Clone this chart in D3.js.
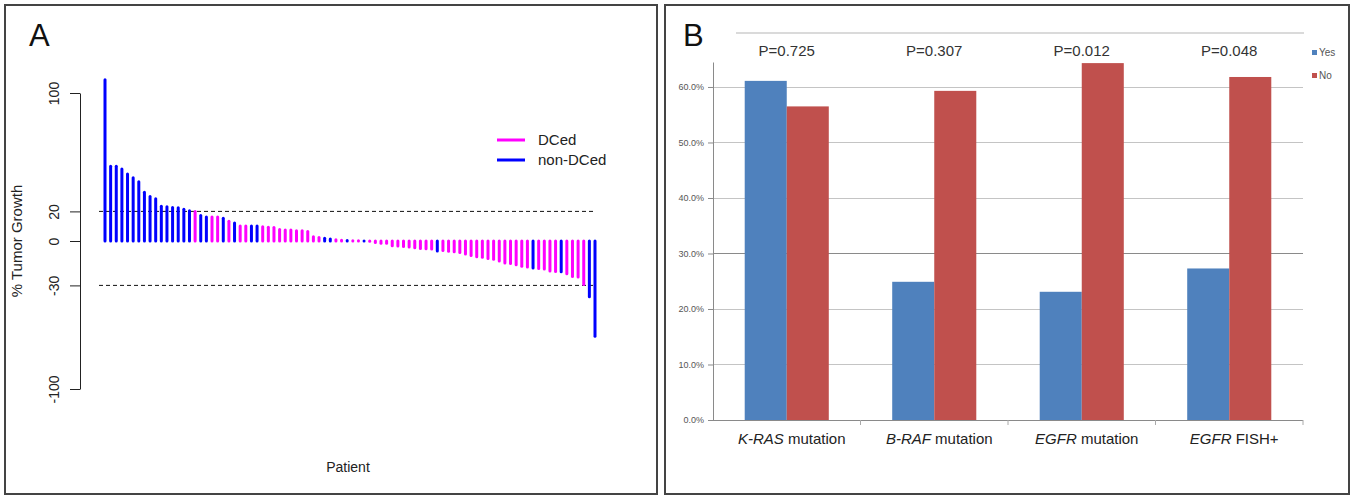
<!DOCTYPE html>
<html><head><meta charset="utf-8">
<script src="https://cdn.jsdelivr.net/npm/d3@7"></script>
<style>body{margin:0;background:#fff} svg{display:block}</style>
</head><body>
<svg id="chart" width="1353" height="498"></svg>
<script>
// ---------- Panel A data ----------
const growthValues = [109, 50.5, 50.5, 48.6, 45.3, 42.8, 40, 33, 30, 28.6,
  23.4, 23.2, 22.7, 22.5, 21.4, 20.5, 20, 17.3, 16.2, 16.2,
  16.2, 15.3, 13.3, 12.2, 10.1, 10.1, 10.1, 10.1, 9.7, 9.3,
  9.2, 7.7, 7.5, 7.5, 7, 7, 6.5, 2.9, 2.3, 1.8,
  1.4, 0.9, 0.5, 0.3, 0.2, 0.1, 0, -0.2, -1, -1.5,
  -1.6, -3.2, -3.4, -3.8, -4, -4.5, -5, -5.2, -5.4, -6.7,
  -6.5, -7, -7.2, -7.7, -8.8, -9.8, -10.6, -11, -11.9, -12.4,
  -13.5, -14.9, -15.2, -16, -17, -17.5, -18.3, -18.6, -19, -20.3,
  -20.6, -20.8, -22.2, -24, -24.3, -29.4, -37.6, -64.3];
// N = non-DCed, D = DCed
const growthGroups = ["N","N","N","N","N","N","N","N","N","N",
  "N","N","N","N","N","N","D","N","N","D",
  "D","N","D","N","D","D","N","N","D","D",
  "D","D","D","D","D","D","D","D","D","N",
  "N","D","D","N","D","D","N","D","D","D",
  "D","D","D","D","D","D","D","D","D","N",
  "D","D","D","D","D","D","D","D","D","D",
  "D","D","D","D","D","D","N","D","D","D",
  "D","N","D","D","D","D","N","N"];
const groupCodes = ["D", "N"];
const groupNames = ["DCed", "non-DCed"];
const yTicksA = [-100, -30, 0, 20, 100];
const yTickLabelsA = ["-100", "-30", "0", "20", "100"];
const thresholdsA = [20, -30];

// ---------- Panel B data ----------
const geneNames = ["K-RAS", "B-RAF", "EGFR", "EGFR"];
const categorySuffix = [" mutation", " mutation", " mutation", " FISH+"];
const seriesNames = ["Yes", "No"];
const yesValues = [61.1, 24.9, 23.1, 27.3];
const noValues = [56.5, 59.3, 64.3, 61.8];
const pValueLabels = ["P=0.725", "P=0.307", "P=0.012", "P=0.048"];
const yTicksB = [0, 10, 20, 30, 40, 50, 60];

const svg = d3.select("#chart");
const font = "'Liberation Sans', Arial, sans-serif";

// ================= PANEL A =================
const A = svg.append("g");
A.append("rect").attr("x", 5).attr("y", 5).attr("width", 652).attr("height", 489)
  .attr("fill", "none").attr("stroke", "#444").attr("stroke-width", 2);
A.append("text").attr("x", 29).attr("y", 46).attr("font-family", font)
  .attr("font-size", 31).attr("fill", "#111").text("A");

const colorA = d3.scaleOrdinal().domain(groupCodes).range(["#ff00ff", "#0000ff"]);
const xA = d3.scalePoint().domain(growthValues.map((d, i) => i)).range([105, 595]);
const yA = d3.scaleLinear().domain([-100, 100]).range([389, 93]);

const axA = A.append("g").attr("transform", "translate(80,0)")
  .call(d3.axisLeft(yA).tickValues(yTicksA).tickSize(10).tickSizeOuter(0)
    .tickFormat((d, i) => yTickLabelsA[i]));
axA.selectAll("path,line").attr("stroke", "#222");
axA.selectAll("text").attr("transform", "rotate(-90)").attr("x", 0).attr("y", -21)
  .attr("dy", 0).attr("text-anchor", "middle").attr("font-family", font)
  .attr("font-size", 14).attr("fill", "#222");

A.append("text").attr("transform", `translate(22,${yA(0)}) rotate(-90)`)
  .attr("text-anchor", "middle").attr("font-family", font).attr("font-size", 15)
  .attr("fill", "#222").text("% Tumor Growth");
A.append("text").attr("x", 348).attr("y", 472).attr("text-anchor", "middle")
  .attr("font-family", font).attr("font-size", 14).attr("fill", "#222").text("Patient");

A.selectAll("line.thr").data(thresholdsA).join("line").attr("class", "thr")
  .attr("x1", 99).attr("x2", 596).attr("y1", d => yA(d)).attr("y2", d => yA(d))
  .attr("stroke", "#111").attr("stroke-width", 1).attr("stroke-dasharray", "4,3");

A.selectAll("line.bar").data(growthValues).join("line").attr("class", "bar")
  .attr("x1", (d, i) => xA(i)).attr("x2", (d, i) => xA(i))
  .attr("y1", yA(0)).attr("y2", d => yA(d))
  .attr("stroke", (d, i) => colorA(growthGroups[i]))
  .attr("stroke-width", 3).attr("stroke-linecap", "round");

const legA = A.selectAll("g.leg").data(groupCodes).join("g").attr("class", "leg")
  .attr("transform", (d, i) => `translate(497,${140 + i * 20})`);
legA.append("line").attr("x1", 0).attr("x2", 28).attr("stroke", d => colorA(d)).attr("stroke-width", 3);
legA.append("text").attr("x", 41).attr("y", 5).attr("font-family", font).attr("font-size", 15)
  .attr("fill", "#222").text((d, i) => groupNames[i]);

// ================= PANEL B =================
const B = svg.append("g");
B.append("rect").attr("x", 665).attr("y", 5).attr("width", 684).attr("height", 489)
  .attr("fill", "none").attr("stroke", "#444").attr("stroke-width", 2);
B.append("text").attr("x", 683).attr("y", 46).attr("font-family", font)
  .attr("font-size", 31).attr("fill", "#111").text("B");

const x0 = d3.scaleBand().domain(d3.range(geneNames.length)).range([713, 1303])
  .paddingInner(0.43).paddingOuter(0.215);
const x1 = d3.scaleBand().domain(seriesNames).range([0, x0.bandwidth()]);
const yB = d3.scaleLinear().domain([0, 64.5]).range([420, 62]);
const colorB = d3.scaleOrdinal().domain(seriesNames).range(["#4f81bd", "#c0504d"]);

B.append("line").attr("x1", 736).attr("x2", 1304).attr("y1", 33).attr("y2", 33)
  .attr("stroke", "#b5b5b5").attr("stroke-width", 1);

// gridlines
B.selectAll("line.grid").data(yTicksB.filter(d => d > 0)).join("line").attr("class", "grid")
  .attr("x1", 713).attr("x2", 1303).attr("y1", d => Math.round(yB(d)) + 0.5).attr("y2", d => Math.round(yB(d)) + 0.5)
  .attr("stroke", d => d === 30 ? "#8a8a8a" : "#c4c4c4").attr("stroke-width", 1.2);

const axB = B.append("g").attr("transform", "translate(713,0)")
  .call(d3.axisLeft(yB).tickValues(yTicksB).tickSize(5).tickSizeOuter(0)
    .tickFormat(d => d3.format(".1f")(d) + "%"));
axB.selectAll("path,line").attr("stroke", "#8a8a8a");
axB.selectAll("text").attr("font-family", font).attr("font-size", 9).attr("fill", "#555").attr("x", -9);

const groups = B.selectAll("g.grp").data(geneNames).join("g").attr("class", "grp")
  .attr("transform", (d, i) => `translate(${x0(i)},0)`);
groups.selectAll("rect").data((d, i) => [yesValues[i], noValues[i]]).join("rect")
  .attr("x", (d, j) => x1(seriesNames[j])).attr("width", x1.bandwidth())
  .attr("y", d => yB(d)).attr("height", d => yB(0) - yB(d))
  .attr("fill", (d, j) => colorB(seriesNames[j]));

// x axis baseline and category ticks
B.append("line").attr("x1", 713).attr("x2", 1303).attr("y1", yB(0) + 0.5).attr("y2", yB(0) + 0.5)
  .attr("stroke", "#8a8a8a").attr("stroke-width", 1.2);
B.selectAll("line.ctick").data(d3.range(1, geneNames.length + 1)).join("line").attr("class", "ctick")
  .attr("x1", d => 713 + d * x0.step()).attr("x2", d => 713 + d * x0.step())
  .attr("y1", yB(0)).attr("y2", yB(0) + 5).attr("stroke", "#aaa");

// category labels
const lab = B.selectAll("text.cat").data(geneNames).join("text").attr("class", "cat")
  .attr("x", (d, i) => x0(i) + x0.bandwidth() / 2 + 5).attr("y", 444)
  .attr("text-anchor", "middle").attr("font-family", font).attr("font-size", 15).attr("fill", "#222");
lab.append("tspan").attr("font-style", "italic").text(d => d);
lab.append("tspan").text((d, i) => categorySuffix[i]);

// P values
B.selectAll("text.pv").data(pValueLabels).join("text").attr("class", "pv")
  .attr("x", (d, i) => x0(i) + x0.bandwidth() / 2).attr("y", 56)
  .attr("text-anchor", "middle").attr("font-family", font).attr("font-size", 15)
  .attr("fill", "#333").text(d => d);

// legend
const legB = B.selectAll("g.legb").data(seriesNames).join("g").attr("class", "legb")
  .attr("transform", (d, i) => `translate(1312,${53 + i * 23})`);
legB.append("rect").attr("x", 0).attr("y", -3).attr("width", 5).attr("height", 5).attr("fill", d => colorB(d));
legB.append("text").attr("x", 7).attr("y", 3).attr("font-family", font).attr("font-size", 10)
  .attr("fill", "#555").text(d => d);
</script>
</body></html>
